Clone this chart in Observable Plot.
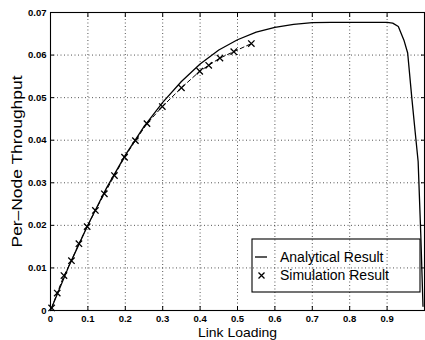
<!DOCTYPE html>
<html><head><meta charset="utf-8">
<script src="https://cdn.jsdelivr.net/npm/d3@7"></script>
<script src="https://cdn.jsdelivr.net/npm/@observablehq/plot@0.6"></script>
<style>body{margin:0;background:#fff;} #chart{width:425px;height:340px;}</style>
</head><body><div id="chart"></div>
<script>
// Analytical result (solid curve)
const analyticalX = [0, 0.05, 0.1, 0.15, 0.2, 0.25, 0.3, 0.35, 0.4, 0.45, 0.5, 0.55, 0.6, 0.65, 0.7, 0.75, 0.8, 0.85, 0.9, 0.915, 0.93, 0.945, 0.955, 0.966, 0.975, 0.983, 0.99, 0.996];
const analyticalY = [0, 0.0106, 0.0201, 0.0288, 0.0365, 0.0432, 0.0489, 0.0538, 0.0579, 0.0612, 0.0636, 0.0654, 0.0665, 0.0672, 0.0676, 0.0677, 0.0677, 0.0677, 0.0677, 0.0675, 0.0667, 0.0635, 0.0605, 0.0500, 0.0420, 0.0350, 0.0180, 0.0010];
// Simulation result (x markers, dashed)
const simX = [0.003, 0.018, 0.036, 0.056, 0.076, 0.098, 0.12, 0.144, 0.171, 0.198, 0.227, 0.258, 0.299, 0.35, 0.399, 0.423, 0.453, 0.49, 0.537];
const simY = [0.0006, 0.0041, 0.0082, 0.0117, 0.0157, 0.0197, 0.0235, 0.0274, 0.0317, 0.036, 0.0399, 0.0439, 0.0479, 0.0523, 0.0562, 0.0576, 0.0593, 0.0608, 0.0627];

const xTicks = [0, 0.1, 0.2, 0.3, 0.4, 0.5, 0.6, 0.7, 0.8, 0.9];
const xTickLabels = ["0", "0.1", "0.2", "0.3", "0.4", "0.5", "0.6", "0.7", "0.8", "0.9"];
const yTicks = [0, 0.01, 0.02, 0.03, 0.04, 0.05, 0.06, 0.07];
const yTickLabels = ["0", "0.01", "0.02", "0.03", "0.04", "0.05", "0.06", "0.07"];
const xLabel = "Link Loading";
const yLabel = "Per\u2013Node Throughput";
const legendLabels = ["Analytical Result", "Simulation Result"];

const analytical = analyticalX.map((x, i) => ({x, y: analyticalY[i]}));
const sim = simX.map((x, i) => ({x, y: simY[i]}));

const font = "'Liberation Sans', Arial, Helvetica, sans-serif";
const gridStyle = {stroke: "black", strokeOpacity: 0.85, strokeWidth: 0.8, strokeDasharray: "1,2.5"};

const plot = Plot.plot({
  width: 425, height: 340,
  marginLeft: 50, marginRight: 1, marginTop: 12, marginBottom: 30,
  style: {fontFamily: font, fontSize: "9.5px", color: "black", background: "white"},
  x: {domain: [0, 1]},
  y: {domain: [0, 0.07]},
  marks: [
    Plot.gridX(xTicks, gridStyle),
    Plot.gridY(yTicks, gridStyle),
    Plot.axisX(xTicks, {tickSize: 0, tickPadding: 5, tickFormat: d => xTickLabels[xTicks.indexOf(d)], label: null, fontWeight: "bold"}),
    Plot.axisY(yTicks, {tickSize: 0, tickPadding: 4, tickFormat: d => yTickLabels[yTicks.indexOf(d)], label: null, fontWeight: "bold"}),
    Plot.axisX(xTicks, {anchor: "bottom", tickSize: -4, tickFormat: () => "", label: null}),
    Plot.axisX(xTicks, {anchor: "top", tickSize: -4, tickFormat: () => "", label: null}),
    Plot.axisY(yTicks, {anchor: "left", tickSize: -4, tickFormat: () => "", label: null}),
    Plot.axisY(yTicks, {anchor: "right", tickSize: -4, tickFormat: () => "", label: null}),
    Plot.frame({stroke: "black", strokeWidth: 1.1}),
    Plot.line(analytical, {x: "x", y: "y", stroke: "black", strokeWidth: 1.3}),
    Plot.line(sim, {x: "x", y: "y", stroke: "black", strokeWidth: 1, strokeDasharray: "4,3"}),
    Plot.dot(sim, {x: "x", y: "y", symbol: "times", r: 3, stroke: "black", strokeWidth: 1.3}),
    Plot.text([xLabel], {frameAnchor: "bottom", lineAnchor: "middle", textAnchor: "middle", dy: 22.5, fontSize: 13, fontFamily: font, className: "xlab"}),
    Plot.text([yLabel], {frameAnchor: "left", lineAnchor: "middle", textAnchor: "middle", dx: -33, rotate: -90, fontSize: 14, fontFamily: font, className: "ylab"})
  ]
});
document.getElementById("chart").appendChild(plot);

// stretch the axis labels to the reference lengths
d3.select(plot).selectAll(".ylab text").attr("textLength", 172).attr("lengthAdjust", "spacingAndGlyphs");
d3.select(plot).selectAll(".xlab text").attr("textLength", 79).attr("lengthAdjust", "spacingAndGlyphs");

// Legend box inside the plot area (bottom-right)
const svg = d3.select(plot);
const lg = svg.append("g").attr("font-family", font).attr("font-size", 14).attr("text-anchor", "start");
lg.append("rect").attr("x", 252).attr("y", 239).attr("width", 168).attr("height", 53)
  .attr("fill", "none").attr("stroke", "black").attr("stroke-width", 1.1);
lg.append("line").attr("x1", 255).attr("x2", 267).attr("y1", 257).attr("y2", 257)
  .attr("stroke", "black").attr("stroke-width", 1.3);
lg.append("path").attr("d", "M258.5,272.5L264.5,278.5M264.5,272.5L258.5,278.5")
  .attr("stroke", "black").attr("stroke-width", 1.3);
lg.selectAll("text.lbl").data(legendLabels).join("text").attr("class", "lbl")
  .attr("x", 280).attr("y", (d, i) => 257 + i * 18.5).attr("dy", "0.35em").text(d => d);
</script>
</body></html>
